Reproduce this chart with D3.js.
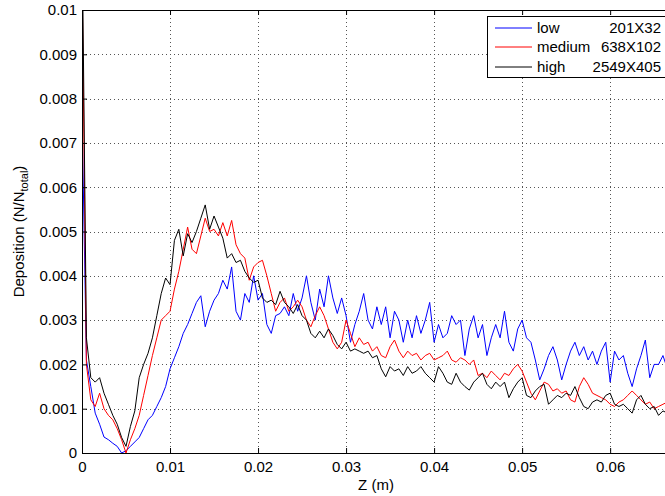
<!DOCTYPE html>
<html>
<head>
<meta charset="utf-8">
<script src="https://cdn.jsdelivr.net/npm/d3@7"></script>
<style>
  body { margin: 0; background: #fff; }
  svg { display: block; }
  text { font-family: "Liberation Sans", Arial, Helvetica, sans-serif; }
</style>
</head>
<body>
<svg id="chart" width="665" height="496"></svg>
<script>
// Deposition profiles along Z, sampled every Z_STEP metres.
// Values are stored in thousandths of N_total (multiplied by UNIT when plotted).
const Z_STEP = 0.0005;
const UNIT = 1e-3;

const lowRes = [
  7.7,2.1,1.5,0.9,0.65,0.36,0.3,0.22,0.15,0.0,0.05,0.15,0.25,0.35,0.55,0.75,0.85,1.05,1.25,1.5,
  1.9,2.15,2.4,2.7,2.9,3.15,3.4,3.55,2.85,3.2,
  3.45,3.6,3.9,3.7,4.2,3.2,3.0,3.6,3.4,4.0,
  3.45,3.6,2.9,2.7,3.1,3.15,3.3,3.1,3.6,3.2,
  3.5,4.0,3.4,3.0,3.7,3.3,4.0,3.5,3.15,3.5,
  3.1,2.5,2.9,3.2,3.6,3.0,2.8,3.3,2.9,3.3,
  2.6,3.2,3.0,2.5,3.0,2.6,3.1,2.7,3.0,3.4,
  2.5,2.9,2.6,2.7,3.1,2.9,3.0,2.2,2.8,3.1,
  2.6,2.9,2.2,2.6,2.9,2.6,3.2,2.5,2.3,2.8,
  3.0,2.6,2.5,2.1,1.65,1.9,2.2,2.4,2.1,1.65,
  2.0,2.3,2.5,2.2,2.4,2.1,2.3,2.0,2.3,2.5,
  1.6,2.3,2.1,2.2,1.8,1.5,1.9,2.2,2.55,1.7,
  2.0,2.0,2.2,1.9
];

const mediumRes = [
  11,2.0,1.2,1.05,1.35,1.0,0.85,0.75,0.55,0.3,
  0.0,0.3,0.55,0.85,1.3,1.75,2.2,2.6,3.0,3.1,
  3.2,3.7,4.1,4.6,5.1,4.6,4.5,4.9,5.3,5.0,
  5.05,4.9,5.2,4.9,5.25,4.7,4.5,4.4,3.9,4.2,
  4.3,4.35,4.0,3.6,3.2,3.4,3.5,3.2,3.3,3.45,
  3.3,3.0,2.85,3.1,3.3,3.1,2.8,2.5,2.35,2.5,
  3.0,2.7,2.4,2.6,2.45,2.5,2.3,2.4,2.2,2.15,
  2.4,2.55,2.3,2.15,2.3,2.2,2.25,2.1,2.2,2.25,
  2.1,2.15,2.2,2.3,2.1,2.05,2.15,2.1,2.0,2.1,
  1.75,1.8,1.7,1.85,1.75,1.65,1.8,1.75,1.9,2.0,
  1.85,1.6,1.35,1.2,1.4,1.6,1.55,1.4,1.45,1.35,
  1.4,1.2,1.15,1.5,1.7,1.55,1.35,1.3,1.25,1.2,
  1.1,1.05,1.15,1.2,1.3,1.4,1.3,1.2,1.1,1.15,
  1.0,1.05,1.1,1.15
];

const highRes = [
  12,2.6,1.7,1.6,1.7,1.35,1.1,0.85,0.65,0.35,
  0.15,0.6,0.95,1.7,2.0,2.25,2.6,3.1,3.6,3.95,
  3.8,4.8,5.05,4.45,4.95,4.75,5.0,5.3,5.6,5.05,
  5.35,5.1,4.85,4.4,4.5,4.3,4.35,4.1,3.95,3.85,
  3.9,3.5,3.4,3.45,3.35,3.65,3.4,3.3,3.15,3.35,
  3.1,3.0,2.7,2.6,2.75,2.6,2.8,2.65,2.45,2.35,
  2.5,2.3,2.35,2.3,2.25,2.3,2.15,2.2,1.9,1.72,
  1.95,1.85,1.9,1.75,1.95,1.8,1.85,1.95,1.8,1.7,
  1.6,1.95,1.8,1.6,1.55,1.8,1.6,1.5,1.42,1.6,
  1.7,1.8,1.55,1.45,1.6,1.5,1.6,1.25,1.45,1.6,
  1.7,1.3,1.25,1.4,1.5,1.55,1.1,1.2,1.3,1.25,
  1.35,1.3,1.5,1.25,1.05,1.0,1.15,1.2,1.15,1.3,
  1.35,1.1,1.05,1.1,1.0,0.9,1.2,1.3,1.1,1.0,
  1.05,0.85,0.95,0.9
];

const seriesNames = ["low", "medium", "high"];
const gridSizes = ["201X32", "638X102", "2549X405"];
const seriesColors = ["#0000ff", "#ff0000", "#000000"];
const seriesValues = [lowRes, mediumRes, highRes];

const xTicks = [0, 0.01, 0.02, 0.03, 0.04, 0.05, 0.06];
const xTickLabels = ["0", "0.01", "0.02", "0.03", "0.04", "0.05", "0.06"];
const yTicks = [0, 0.001, 0.002, 0.003, 0.004, 0.005, 0.006, 0.007, 0.008, 0.009, 0.01];
const yTickLabels = ["0", "0.001", "0.002", "0.003", "0.004", "0.005", "0.006", "0.007", "0.008", "0.009", "0.01"];

(function draw() {
  // Plot frame
  const plotLeft = 82, plotTop = 10, plotRight = 670, plotBottom = 453;
  const svg = d3.select("#chart");

  const x = d3.scaleLinear().domain([0, 0.0668]).range([plotLeft, plotRight]);
  const y = d3.scaleLinear().domain([0, 0.01]).range([plotBottom, plotTop]);

  svg.append("rect").attr("x", 0).attr("y", 0).attr("width", 665).attr("height", 496).attr("fill", "#fff");

  // Dotted grid
  const grid = svg.append("g").attr("stroke", "#555").attr("stroke-width", 1)
    .attr("stroke-dasharray", "1,3").attr("fill", "none");
  grid.selectAll("line.v").data(xTicks.slice(1)).join("line").attr("class", "v")
    .attr("x1", d => Math.round(x(d)) + 0.5).attr("x2", d => Math.round(x(d)) + 0.5)
    .attr("y1", plotTop).attr("y2", plotBottom);
  grid.selectAll("line.h").data(yTicks.slice(1, -1)).join("line").attr("class", "h")
    .attr("y1", d => Math.round(y(d)) + 0.5).attr("y2", d => Math.round(y(d)) + 0.5)
    .attr("x1", plotLeft).attr("x2", plotRight);

  // Data lines
  svg.append("clipPath").attr("id", "plotClip").append("rect")
    .attr("x", plotLeft).attr("y", plotTop)
    .attr("width", plotRight - plotLeft).attr("height", plotBottom - plotTop);

  const line = d3.line()
    .x((d, i) => x(i * Z_STEP))
    .y(d => y(d * UNIT));

  const lines = svg.append("g").attr("clip-path", "url(#plotClip)");
  seriesValues.forEach((vals, k) => {
    lines.append("path").datum(vals)
      .attr("d", line)
      .attr("fill", "none")
      .attr("stroke", seriesColors[k])
      .attr("stroke-width", 1)
      .attr("stroke-linejoin", "round");
  });

  // Axes (ticks point inward)
  const fontSize = 15;
  const xAxis = d3.axisBottom(x).tickValues(xTicks)
    .tickFormat((d, i) => xTickLabels[i]).tickSizeInner(-5).tickSizeOuter(0).tickPadding(8);
  const gx = svg.append("g").attr("transform", `translate(0,${plotBottom})`).call(xAxis);

  const yAxis = d3.axisLeft(y).tickValues(yTicks)
    .tickFormat((d, i) => yTickLabels[i]).tickSizeInner(-5).tickSizeOuter(0).tickPadding(5);
  const gy = svg.append("g").attr("transform", `translate(${plotLeft},0)`).call(yAxis);

  const xTop = d3.axisTop(x).tickValues(xTicks).tickFormat("").tickSizeInner(-5).tickSizeOuter(0);
  const gt = svg.append("g").attr("transform", `translate(0,${plotTop})`).call(xTop);

  [gx, gy, gt].forEach(g => {
    g.selectAll("path.domain").attr("stroke", "#000").attr("stroke-width", 1);
    g.selectAll(".tick line").attr("stroke", "#000");
    g.selectAll(".tick text").attr("fill", "#000").style("font-size", fontSize + "px")
      .style("font-family", '"Liberation Sans", Arial, sans-serif');
  });

  // Axis titles
  svg.append("text")
    .attr("x", (plotLeft + plotRight) / 2).attr("y", 490)
    .attr("text-anchor", "middle").style("font-size", fontSize + "px").attr("fill", "#000")
    .text("Z (m)");

  const yTitle = svg.append("text")
    .attr("transform", `translate(24,${(plotTop + plotBottom) / 2}) rotate(-90)`)
    .attr("text-anchor", "middle").style("font-size", fontSize + "px").attr("fill", "#000");
  yTitle.append("tspan").text("Deposition (N/N");
  yTitle.append("tspan").attr("dy", 4).style("font-size", "11px").text("total");
  yTitle.append("tspan").attr("dy", -4).text(")");

  // Legend
  const legend = svg.append("g");
  legend.append("rect")
    .attr("x", 487.5).attr("y", 16.5).attr("width", 200).attr("height", 61)
    .attr("fill", "#fff").attr("stroke", "#000").attr("stroke-width", 1);
  const rowY = [28, 47, 67];
  seriesNames.forEach((name, k) => {
    legend.append("line")
      .attr("x1", 495).attr("x2", 532).attr("y1", rowY[k]).attr("y2", rowY[k])
      .attr("stroke", seriesColors[k]).attr("stroke-width", 1);
    legend.append("text").attr("x", 537).attr("y", rowY[k] + 5)
      .style("font-size", fontSize + "px").attr("fill", "#000").text(name);
    legend.append("text").attr("x", 661).attr("y", rowY[k] + 5).attr("text-anchor", "end")
      .style("font-size", fontSize + "px").attr("fill", "#000").text(gridSizes[k]);
  });
})();
</script>
</body>
</html>
